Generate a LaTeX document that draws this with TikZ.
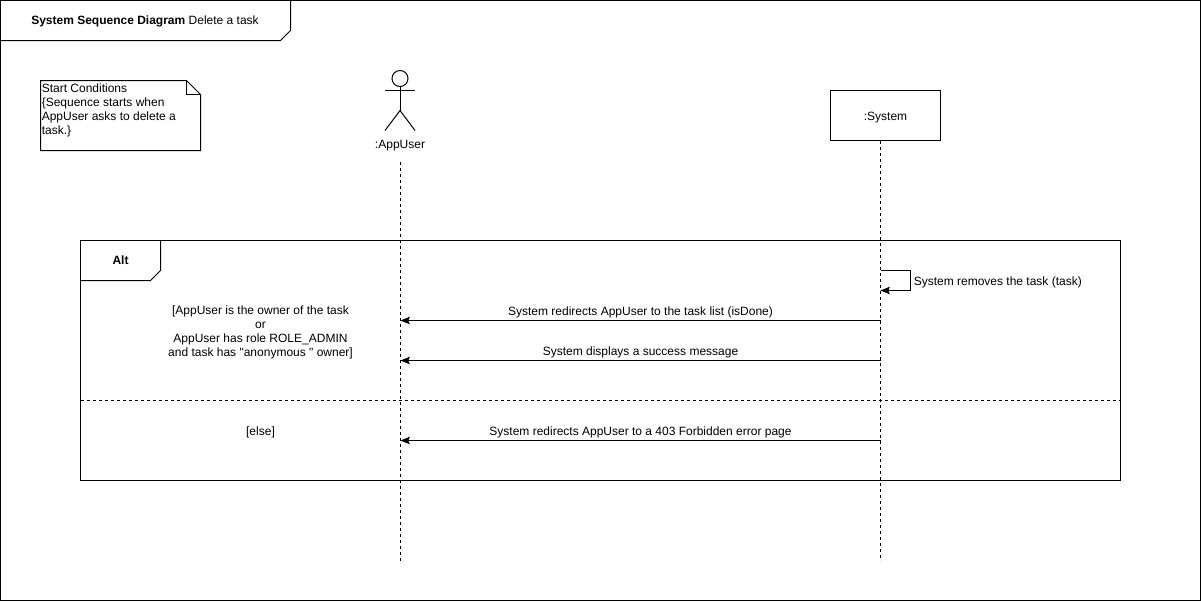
\documentclass[tikz,border=0pt]{standalone}
\usepackage{fontspec}
\setmainfont{Liberation Sans}[Ligatures=TeXOff]
\usetikzlibrary{arrows.meta}
\tikzset{
	line/.style={line width=.75pt,black},
	lifeline/.style={line,dash pattern=on 2.25pt off 2.25pt},
	msg/.style={line,-{Stealth[length=7pt,width=5.6pt,inset=1.2pt]}},
	msgtext/.style={anchor=base,inner sep=0pt,font=\fontsize{9}{10.5}\selectfont,yshift=3.75pt},
	txt/.style={inner sep=0pt,font=\fontsize{9}{10.5}\selectfont},
}
\begin{document}
\begin{tikzpicture}[x=.75pt,y=-.75pt]
	\useasboundingbox (0,0) rectangle (1201,601);
	\begin{scope}[shift={(.5,.5)}]
	% frame and title tab
	\draw[line] (0,0)rectangle(1200,600);
	\draw[line] (290,0)--(290,30)--(280,40)--(0,40);
	\node[txt,anchor=base] (title) at (144.5,24) {\textbf{System Sequence Diagram} Delete a task};
	% note
	\draw[line] (40,80)--(186,80)--(200,94)--(200,150)--(40,150)--cycle;
	\draw[line] (186,80)--(186,94)--(200,94);
	\node[txt,anchor=north west,align=left] (note) at (41,83) {Start Conditions\\\{Sequence starts when\\AppUser asks to delete a\\task.\}};
	% actor
	\node[line,draw,circle,inner sep=0pt,minimum size=12pt] (head) at (399.5,78) {};
	\coordinate (hip) at (399.5,110);
	\draw[line] (head)--(hip);
	\draw[line] (384.5,90)--(414.5,90);
	\draw[line] (384.5,130)--(hip)--(414.5,130);
	\node[txt,anchor=base] (appuser) at (399.5,148) {:AppUser};
	% system box
	\node[line,draw,minimum width=82.5pt,minimum height=37.5pt,inner sep=0pt,txt,text height=9pt,text depth=2pt] (system) at (885,115) {:System};
	% lifelines
	\coordinate (userTop) at (400,161);
	\coordinate (userEnd) at (400,560);
	\coordinate (sysTop) at (880,140);
	\coordinate (sysEnd) at (880,560);
	\draw[lifeline] (userTop)--(userEnd);
	\draw[lifeline] (sysTop)--(sysEnd);
	% alt frame
	\draw[line] (80,240)rectangle(1120,480);
	\draw[line] (160,240)--(160,270)--(150,280)--(80,280);
	\node[txt,anchor=base] (alt) at (120,264) {\textbf{Alt}};
	\coordinate (sepL) at (80,400);
	\coordinate (sepR) at (1120,400);
	\draw[lifeline] (sepL)--(sepR);
	\node[txt,align=center] (guardA) at (260,332) {[AppUser is the owner of the task\\or\\AppUser has role ROLE\_ADMIN\\and task has "anonymous " owner]};
	\node[txt] (guardB) at (260,432) {[else]};
	% messages
	\coordinate (selfA) at (880,270);
	\coordinate (selfB) at (880,290);
	\draw[msg] (selfA)--(910,270)--(910,290)--(selfB);
	\node[txt,anchor=base west] (selftext) at (913,285) {System removes the task (task)};
	\coordinate (sysA) at (880,320);
	\coordinate (userA) at (400,320);
	\draw[msg] (sysA)--node[msgtext]{System redirects AppUser to the task list (isDone)}(userA);
	\coordinate (sysB) at (880,360);
	\coordinate (userB) at (400,360);
	\draw[msg] (sysB)--node[msgtext]{System displays a success message}(userB);
	\coordinate (sysC) at (880,440);
	\coordinate (userC) at (400,440);
	\draw[msg] (sysC)--node[msgtext]{System redirects AppUser to a 403 Forbidden error page}(userC);
	\end{scope}
\end{tikzpicture}
\end{document}
